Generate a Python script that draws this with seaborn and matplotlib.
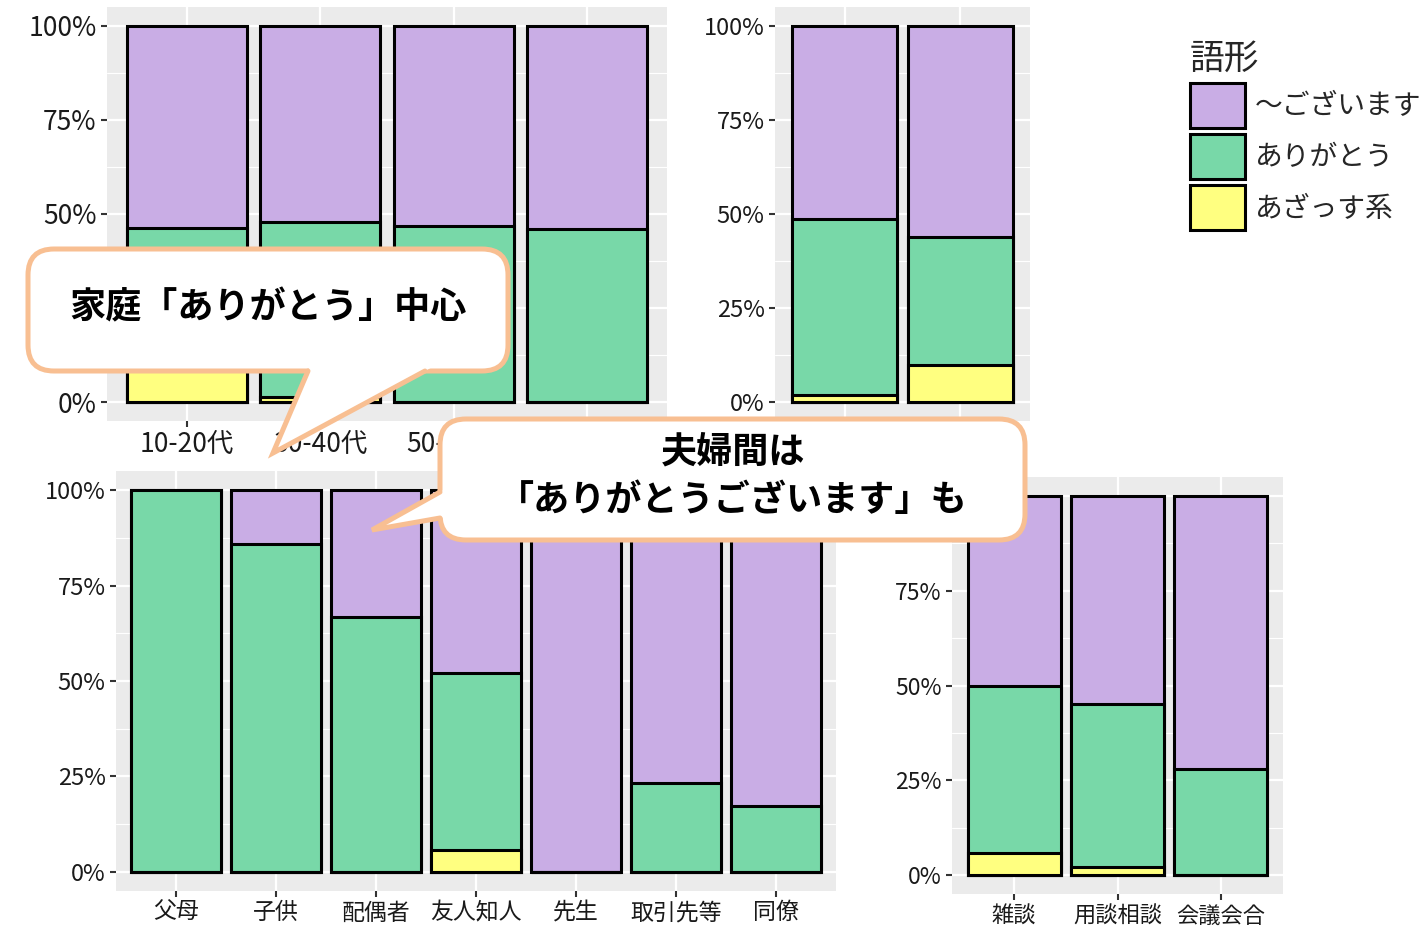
import matplotlib
matplotlib.use("Agg")
import matplotlib.pyplot as plt
from matplotlib.patches import FancyBboxPatch, Polygon, Patch
from matplotlib.lines import Line2D
import seaborn as sns
import pandas as pd
import numpy as np

# =========================
# DATA (percent)
# =========================
forms = ["～ございます", "ありがとう", "あざっす系"]
form_colors = ["#C9ADE5", "#78D8A8", "#FFFF80"]

age_labels = ["10-20代", "30-40代", "50-60代", "70代以上"]
age_azassu = [12.0, 1.5, 0.0, 0.0]
age_arigatou = [34.4, 46.5, 46.7, 46.0]
age_gozaimasu = [53.6, 52.0, 53.3, 54.0]

sex_labels = ["男性", "女性"]
sex_azassu = [1.9, 10.0]
sex_arigatou = [46.9, 34.0]
sex_gozaimasu = [51.2, 56.0]

rel_labels = ["父母", "子供", "配偶者", "友人知人", "先生", "取引先等", "同僚"]
rel_azassu = [0.0, 0.0, 0.0, 5.8, 0.0, 0.0, 0.0]
rel_arigatou = [100.0, 85.9, 66.8, 46.3, 0.0, 23.3, 17.3]
rel_gozaimasu = [0.0, 14.1, 33.2, 47.9, 100.0, 76.7, 82.7]

scene_labels = ["雑談", "用談相談", "会議会合"]
scene_azassu = [5.8, 2.1, 0.0]
scene_arigatou = [44.2, 43.1, 28.0]
scene_gozaimasu = [50.0, 54.8, 72.0]

# =========================
# STYLE
# =========================
sns.set_theme(style="darkgrid")
plt.rcParams['font.family'] = ['Noto Sans CJK JP', 'DejaVu Sans']

W, H = 1427, 930
fig = plt.figure(figsize=(W / 100, H / 100), dpi=100)
fig.patch.set_facecolor("white")


def add_ax(x0, y0, x1, y1, zorder=1):
    return fig.add_axes([x0 / W, 1 - y1 / H, (x1 - x0) / W, (y1 - y0) / H],
                        zorder=zorder)


def draw_panel(ax, labels, azassu, arigatou, gozaimasu, fs_y, fs_x):
    df = pd.DataFrame({
        "cat": labels,
        "low": np.array(azassu) / 100,
        "mid": (np.array(azassu) + np.array(arigatou)) / 100,
        "top": (np.array(azassu) + np.array(arigatou) + np.array(gozaimasu)) / 100,
    })
    # layered cumulative bars = stacked look
    for col, c in zip(["top", "mid", "low"], form_colors):
        sns.barplot(data=df, x="cat", y=col, order=labels, color=c,
                    saturation=1, width=0.9, edgecolor="black",
                    linewidth=2.2, errorbar=None, ax=ax)
    for p in ax.patches:
        p.set_joinstyle("miter")

    n = len(labels)
    ax.set_xlim(-0.6, n - 0.4)
    ax.set_ylim(-0.05, 1.05)
    ax.set_facecolor("#EBEBEB")
    ax.set_axisbelow(True)
    ax.set_yticks([0, 0.25, 0.5, 0.75, 1.0])
    ax.set_yticklabels(["0%", "25%", "50%", "75%", "100%"])
    ax.set_yticks([0.125, 0.375, 0.625, 0.875], minor=True)
    ax.grid(which="major", color="white", linewidth=1.6)
    ax.grid(which="minor", axis="y", color="white", linewidth=0.8)
    ax.set_xlabel("")
    ax.set_ylabel("")
    for s in ax.spines.values():
        s.set_visible(False)
    ax.tick_params(which="major", bottom=True, left=True, length=4.5,
                   width=1.5, color="#333333", pad=3)
    ax.tick_params(which="minor", length=0)
    ax.tick_params(axis="y", labelsize=fs_y, labelcolor="#1A1A1A")
    ax.tick_params(axis="x", labelsize=fs_x, labelcolor="#1A1A1A")


ax1 = add_ax(107, 7, 667, 421)
draw_panel(ax1, age_labels, age_azassu, age_arigatou, age_gozaimasu, 19, 19)

ax2 = add_ax(775, 7, 1030, 421)
draw_panel(ax2, sex_labels, sex_azassu, sex_arigatou, sex_gozaimasu, 17, 17)

ax3 = add_ax(116, 471, 836, 891)
draw_panel(ax3, rel_labels, rel_azassu, rel_arigatou, rel_gozaimasu, 17, 16.5)

ax4 = add_ax(952, 477, 1283, 894)
draw_panel(ax4, scene_labels, scene_azassu, scene_arigatou, scene_gozaimasu, 16.5, 16)

# =========================
# LEGEND
# =========================
handles = [Patch(facecolor=c, edgecolor="black", linewidth=2.2, label=f)
           for f, c in zip(forms, form_colors)]
fig.legend(handles=handles, title="語形", loc="upper left",
           bbox_to_anchor=(1176 / W, 1 - 28 / H), frameon=False,
           fontsize=20, title_fontsize=25, handlelength=1.98,
           handleheight=2.12, labelspacing=0.22, handletextpad=0.35,
           borderpad=0, alignment="left")

# =========================
# CALLOUTS
# =========================
ov = add_ax(0, 0, W, H, zorder=10)
ov.set_xlim(0, W)
ov.set_ylim(H, 0)
ov.axis("off")
ov.patch.set_alpha(0)

peach = "#F8BF92"


def callout(x0, y0, x1, y1, p1, p2, tip):
    ov.add_patch(FancyBboxPatch((x0, y0), x1 - x0, y1 - y0,
                                boxstyle="round,pad=0,rounding_size=26",
                                fc="white", ec=peach, lw=3.6, zorder=1))
    tip = np.array(tip, float)
    ext = []
    for p in (p1, p2):
        p = np.array(p, float)
        d = (p - tip) / np.linalg.norm(p - tip)
        ext.append(p + d * 10)
    ov.add_patch(Polygon([ext[0], ext[1], tip], closed=True, fc="white",
                         ec="none", zorder=2))
    ov.add_line(Line2D([p1[0], tip[0], p2[0]], [p1[1], tip[1], p2[1]],
                       color=peach, lw=3.6, solid_joinstyle="miter", zorder=3))


callout(28, 249, 508, 371, (308, 371), (425, 371), (273, 453))
ov.text(268, 308, "家庭「ありがとう」中心", ha="center", va="center",
        fontsize=26, fontweight="bold", color="black", zorder=4)

callout(440, 419, 1025, 540, (440, 492), (440, 518), (372, 530))
ov.text(733, 452, "夫婦間は", ha="center", va="center",
        fontsize=26, fontweight="bold", color="black", zorder=4)
ov.text(733, 500, "「ありがとうございます」も", ha="center", va="center",
        fontsize=26, fontweight="bold", color="black", zorder=4)

fig.savefig("out.png", dpi=100)
